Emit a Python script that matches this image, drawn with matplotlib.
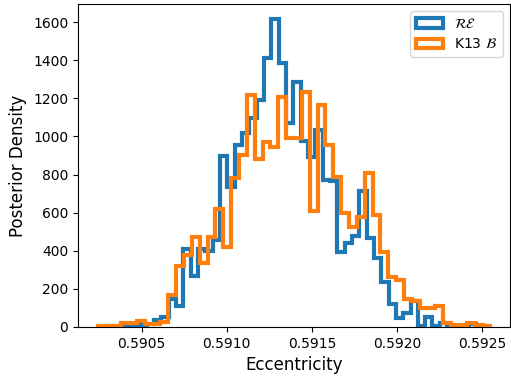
import numpy as np
import matplotlib
matplotlib.use("Agg")
import matplotlib.pyplot as plt

# Bin ranges (eccentricity) and per-bin posterior densities
re_range = (0.590314, 0.592467)
re_density = [7, 5, 5, 5, 8, 18, 35, 54, 145, 108,
              410, 270, 410, 400, 456, 897, 736, 955, 1016, 1095,
              1191, 1410, 1614, 1383, 1072, 1285, 976, 893, 1034, 771,
              768, 395, 439, 477, 715, 465, 360, 238, 121, 46,
              72, 138, 5, 51, 5, 19, 3, 3, 3, 14]

k13_range = (0.590241, 0.592549)
k13_density = [5, 7, 5, 23, 20, 33, 16, 18, 24, 168,
               320, 378, 470, 337, 470, 617, 418, 780, 902, 1217,
               879, 972, 946, 1205, 990, 990, 1235, 610, 1165, 955,
               785, 596, 526, 579, 810, 588, 395, 264, 247, 145,
               138, 98, 98, 110, 23, 10, 8, 23, 8, 7]

labels = [r'$\mathcal{RE}$', r'K13 $\mathcal{B}$']
xlabel = 'Eccentricity'
ylabel = 'Posterior Density'

fig = plt.figure(figsize=(5.11, 3.76), dpi=100)
ax = fig.add_axes([78/511, 49/376, 432/511, 323/376])

re_edges = np.linspace(re_range[0], re_range[1], len(re_density) + 1)
k13_edges = np.linspace(k13_range[0], k13_range[1], len(k13_density) + 1)

ax.hist(re_edges[:-1], bins=re_edges, weights=re_density, histtype='step',
        linewidth=3, color='#1f77b4', label=labels[0])
ax.hist(k13_edges[:-1], bins=k13_edges, weights=k13_density, histtype='step',
        linewidth=3, color='#ff7f0e', label=labels[1])

ax.set_xlim(0.590126, 0.592664)
ax.set_ylim(0, 1695)
ax.set_xticks([0.5905, 0.5910, 0.5915, 0.5920, 0.5925])
ax.set_xticklabels(['0.5905', '0.5910', '0.5915', '0.5920', '0.5925'])
ax.set_yticks(range(0, 1601, 200))
ax.tick_params(labelsize=10)
ax.set_xlabel(xlabel, fontsize=12)
ax.set_ylabel(ylabel, fontsize=12)
ax.legend(loc='upper right', fontsize=10)

fig.savefig('out.png', dpi=100)
